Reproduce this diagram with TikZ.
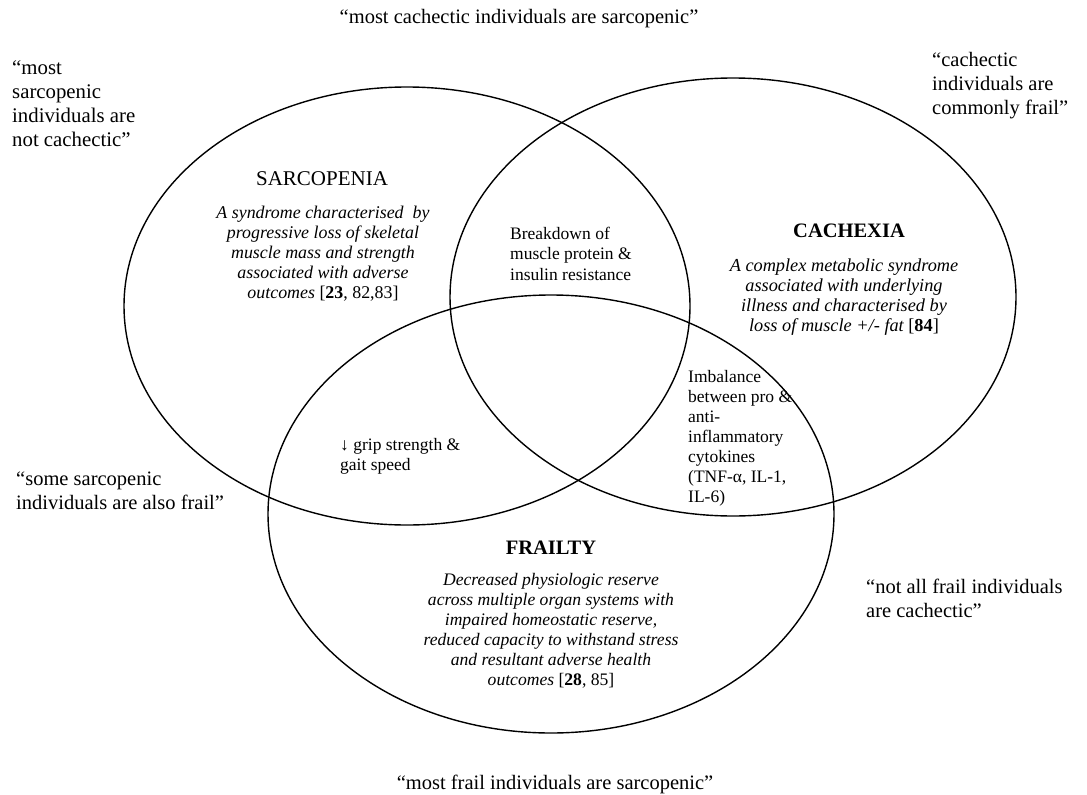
\documentclass[tikz,border=0pt]{standalone}
\usepackage{fontspec}
\setmainfont{Liberation Serif}
\begin{document}
\begin{tikzpicture}[x=1pt,y=-1pt,
  setline/.style={draw=black, line width=1.4pt},
  quote/.style={font=\fontsize{20.5}{24}\selectfont, align=left, inner sep=0pt},
  title/.style={font=\fontsize{21}{24}\selectfont, inner sep=0pt},
  btitle/.style={font=\fontsize{20.5}{24}\selectfont\bfseries, inner sep=0pt},
  desc/.style={align=center, inner sep=0pt},
  lap/.style={font=\fontsize{17.5}{20.3}\selectfont, align=left, inner sep=0pt}]
\useasboundingbox (0,0) rectangle (1087,795);
\fill[white] (0,0) rectangle (1087,795);
% sets
\draw[setline] (407,306) ellipse [x radius=283pt, y radius=219pt];
\draw[setline] (733,297) ellipse [x radius=283pt, y radius=219pt];
\draw[setline] (551,514) ellipse [x radius=283pt, y radius=219pt];
% outer quotes
\node[quote, anchor=north] (q1) at (519,9) {“most cachectic individuals are sarcopenic”};
\node[quote, anchor=north west, font=\fontsize{20.8}{24.3}\selectfont] (q2) at (12,60) {“most\\sarcopenic\\individuals are\\not cachectic”};
\node[quote, anchor=north west] (q3) at (932,52) {“cachectic\\individuals are\\commonly frail”};
\node[quote, anchor=north west] (q4) at (16,472) {“some sarcopenic\\individuals are also frail”};
\node[quote, anchor=north west] (q5) at (866,579) {“not all frail individuals\\are cachectic”};
\node[quote, anchor=north] (q6) at (555,775) {“most frail individuals are sarcopenic”};
% titles and descriptions
\node[title, anchor=base] (sarc) at (322,185) {SARCOPENIA};
\node[desc, anchor=north, font=\fontsize{17.9}{20}\selectfont\itshape] (sarcd) at (323,206) {A syndrome characterised\ \ by\\progressive loss of skeletal\\muscle mass and strength\\associated with adverse\\outcomes {\upshape[\textbf{23}, 82,83]}};
\node[btitle, anchor=base] (cach) at (849,237) {CACHEXIA};
\node[desc, anchor=north, font=\fontsize{18.3}{20}\selectfont\itshape] (cachd) at (844,259) {A complex metabolic syndrome\\associated with underlying\\illness and characterised by\\loss of muscle +/- fat {\upshape[\textbf{84}]}};
\node[btitle, anchor=base] (frail) at (551,554) {FRAILTY};
\node[desc, anchor=north, font=\fontsize{17.6}{20}\selectfont\itshape] (fraild) at (551,573) {Decreased physiologic reserve\\across multiple organ systems with\\impaired homeostatic reserve,\\reduced capacity to withstand stress\\and resultant adverse health\\outcomes {\upshape[\textbf{28}, 85]}};
% overlaps
\node[lap, anchor=north west] (sc) at (510,227) {Breakdown of\\muscle protein \&\\insulin resistance};
\node[lap, anchor=north west, font=\fontsize{17.5}{20}\selectfont] (cf) at (688,370) {Imbalance\\between pro \&\\anti-\\inflammatory\\cytokines\\(TNF-α, IL-1,\\IL-6)};
\node[lap, anchor=north west] (sf) at (340,438) {↓ grip strength \&\\gait speed};
\end{tikzpicture}
\end{document}
